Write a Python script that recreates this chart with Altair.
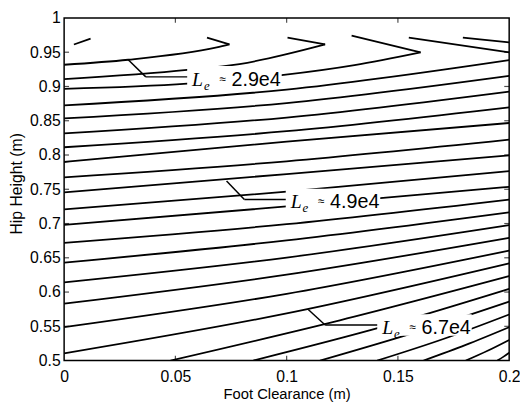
import altair as alt
import pandas as pd

# ---------------- data (x: Foot Clearance m, y: Hip Height m)
# contour lines running from the left edge (x=0) to the right edge (x=0.2)
edge_x = [0.0, 0.1, 0.2]
left_y = [0.8725, 0.8534, 0.8314, 0.8113, 0.7898, 0.7675, 0.7454, 0.7206,
          0.6981, 0.6719, 0.6428, 0.6142, 0.5831, 0.5487, 0.5105]
mid_y = [0.8954, 0.8758, 0.8547, 0.8347, 0.8195, 0.7908, 0.7722, 0.7464,
         0.7249, 0.6991, 0.6754, 0.6504, 0.6254, 0.5974, 0.5688]
right_y = [0.9384, 0.9155, 0.8926, 0.8696, 0.8467, 0.8223, 0.7994, 0.7765,
           0.7536, 0.7350, 0.7163, 0.6977, 0.6791, 0.6605, 0.6418]

# contour lines rising from the bottom edge (y=0.5) to the right edge
bottom_x = [0.0478, 0.0850, 0.1150, 0.1407, 0.1615, 0.1805, 0.1947]
bmid_x = [0.1239, 0.1425, 0.1575, 0.1704, 0.1805, 0.1903, 0.1975]
bmid_y = [0.5587, 0.5487, 0.5408, 0.5315, 0.5229, 0.5143, 0.5058]
bright_y = [0.6232, 0.6046, 0.5860, 0.5673, 0.5487, 0.5301, 0.5115]

# lower arms of the folded contours near the top
hook1_x = [0.0, 0.0288, 0.0686, 0.0743]
hook1_y = [0.9317, 0.9390, 0.9570, 0.9613]
hook2_x = [0.0, 0.0553, 0.0788, 0.1173]
hook2_y = [0.9107, 0.9241, 0.9327, 0.9613]
hook3_x = [0.0, 0.0553, 0.0987, 0.1305, 0.1602]
hook3_y = [0.8964, 0.9040, 0.9169, 0.9312, 0.9499]

# upper arms of the folds and short fragments (start -> end)
arm_x0 = [0.0743, 0.1173, 0.1602, 0.1549, 0.1792, 0.0044]
arm_y0 = [0.9613, 0.9613, 0.9499, 0.9713, 0.9713, 0.9613]
arm_x1 = [0.0642, 0.1004, 0.1292, 0.2000, 0.2000, 0.0119]
arm_y1 = [0.9713, 0.9713, 0.9742, 0.9499, 0.9642, 0.9699]

# contour labels with leader lines
label_text = ["2.9e4", "4.9e4", "6.7e4"]
label_x = [0.0553, 0.0996, 0.1407]
label_y = [0.9140, 0.7350, 0.5520]
leader_x = [0.0288, 0.0730, 0.1097]
leader_y = [0.9390, 0.7622, 0.5745]
elbow_x = [0.0367, 0.0810, 0.1173]

x_ticks = [0, 0.05, 0.1, 0.15, 0.2]
y_ticks = [0.5, 0.55, 0.6, 0.65, 0.7, 0.75, 0.8, 0.85, 0.9, 0.95, 1.0]
x_inner = [0.05, 0.1, 0.15]
y_inner = [0.55, 0.6, 0.65, 0.7, 0.75, 0.8, 0.85, 0.9, 0.95]

W, H = 452, 348
SANS = "Liberation Sans"
SERIF = "Liberation Serif"

# ---------------- tables
rows = []
for i in range(len(left_y)):
    for xx, yy in zip(edge_x, [left_y[i], mid_y[i], right_y[i]]):
        rows.append({"id": f"L{i}", "x": xx, "y": yy})
for i in range(len(bottom_x)):
    for xx, yy in zip([bottom_x[i], bmid_x[i], 0.2], [0.5, bmid_y[i], bright_y[i]]):
        rows.append({"id": f"B{i}", "x": xx, "y": yy})
for name, hx, hy in [("H1", hook1_x, hook1_y), ("H2", hook2_x, hook2_y), ("H3", hook3_x, hook3_y)]:
    for xx, yy in zip(hx, hy):
        rows.append({"id": name, "x": xx, "y": yy})
lines_df = pd.DataFrame(rows)

arms_df = pd.DataFrame({"x": arm_x0, "y": arm_y0, "x2": arm_x1, "y2": arm_y1})

lead_rows = []
for i in range(len(label_x)):
    lead_rows.append({"x": leader_x[i], "y": leader_y[i], "x2": elbow_x[i], "y2": label_y[i]})
    lead_rows.append({"x": elbow_x[i], "y": label_y[i], "x2": label_x[i], "y2": label_y[i]})
lead_df = pd.DataFrame(lead_rows)

lab_df = pd.DataFrame({"x": label_x, "y": label_y, "t": label_text})

X = alt.X("x:Q", scale=alt.Scale(domain=[0, 0.2], nice=False, zero=False),
          axis=alt.Axis(values=x_ticks, format=".2~f", title="Foot Clearance (m)",
                        ticks=False, domain=False, grid=False, labelFlush=False,
                        labelFont=SANS, labelFontSize=16, labelColor="black", labelPadding=8,
                        titleFont=SANS, titleFontSize=15, titleFontWeight="normal",
                        titleColor="black", titleY=38, titleBaseline="alphabetic"))
Y = alt.Y("y:Q", scale=alt.Scale(domain=[0.5, 1.0], nice=False, zero=False),
          axis=alt.Axis(values=y_ticks, format=".2~f", title="Hip Height (m)",
                        ticks=False, domain=False, grid=False, labelFlush=False,
                        labelOverlap=False,
                        labelFont=SANS, labelFontSize=16, labelColor="black", labelPadding=4,
                        titleFont=SANS, titleFontSize=16, titleFontWeight="normal",
                        titleColor="black", titleX=-40, titleY=168, titleAngle=270,
                        titleAlign="center", titleBaseline="bottom"))

lines = alt.Chart(lines_df).mark_line(
    interpolate="monotone", color="black", strokeWidth=1.8, clip=True
).encode(x=X, y=Y, detail="id:N")

arms = alt.Chart(arms_df).mark_rule(color="black", strokeWidth=1.8, clip=True).encode(
    x=X, y=Y, x2="x2:Q", y2="y2:Q")

boxes = alt.Chart(lab_df).mark_rect(
    color="white", x2Offset=96, yOffset=-11, y2Offset=11
).encode(x=X, y=Y, x2="x:Q", y2="y:Q")

leaders = alt.Chart(lead_df).mark_rule(color="black", strokeWidth=1.5).encode(
    x=X, y=Y, x2="x2:Q", y2="y2:Q")

t_L = alt.Chart(lab_df).mark_text(
    align="left", baseline="alphabetic", dx=5, dy=9, font=SERIF, fontStyle="italic",
    fontSize=20, color="black").encode(x=X, y=Y, text=alt.value("L"))
t_e = alt.Chart(lab_df).mark_text(
    align="left", baseline="alphabetic", dx=17, dy=13, font=SERIF, fontStyle="italic",
    fontSize=13, color="black").encode(x=X, y=Y, text=alt.value("e"))
t_eq = alt.Chart(lab_df).mark_text(
    align="center", baseline="middle", dx=36, dy=2, font=SANS,
    fontSize=12, color="black").encode(x=X, y=Y, text=alt.value("≈"))
t_num = alt.Chart(lab_df).mark_text(
    align="left", baseline="alphabetic", dx=45, dy=9, font=SANS,
    fontSize=20, color="black").encode(x=X, y=Y, text="t:N")

xt_df = pd.DataFrame({"x": x_inner})
yt_df = pd.DataFrame({"y": y_inner})
tick_bottom = alt.Chart(xt_df).mark_tick(orient="vertical", size=5, thickness=1.2, color="black").encode(
    x=X, y=alt.value(H - 2.5))
tick_top = alt.Chart(xt_df).mark_tick(orient="vertical", size=5, thickness=1.2, color="black").encode(
    x=X, y=alt.value(2.5))
tick_left = alt.Chart(yt_df).mark_tick(orient="horizontal", size=5, thickness=1.2, color="black").encode(
    y=Y, x=alt.value(2.5))
tick_right = alt.Chart(yt_df).mark_tick(orient="horizontal", size=5, thickness=1.2, color="black").encode(
    y=Y, x=alt.value(W - 2.5))

chart = alt.layer(
    lines, arms, boxes, leaders, t_L, t_e, t_eq, t_num,
    tick_bottom, tick_top, tick_left, tick_right
).properties(
    width=W, height=H,
    autosize=alt.AutoSizeParams(type="none"),
    padding={"left": 57, "top": 7, "right": 11, "bottom": 42},
    background="white",
).configure_view(stroke="black", strokeWidth=1.5)

chart.save("out.html", embed_options={"renderer": "svg", "actions": False})
